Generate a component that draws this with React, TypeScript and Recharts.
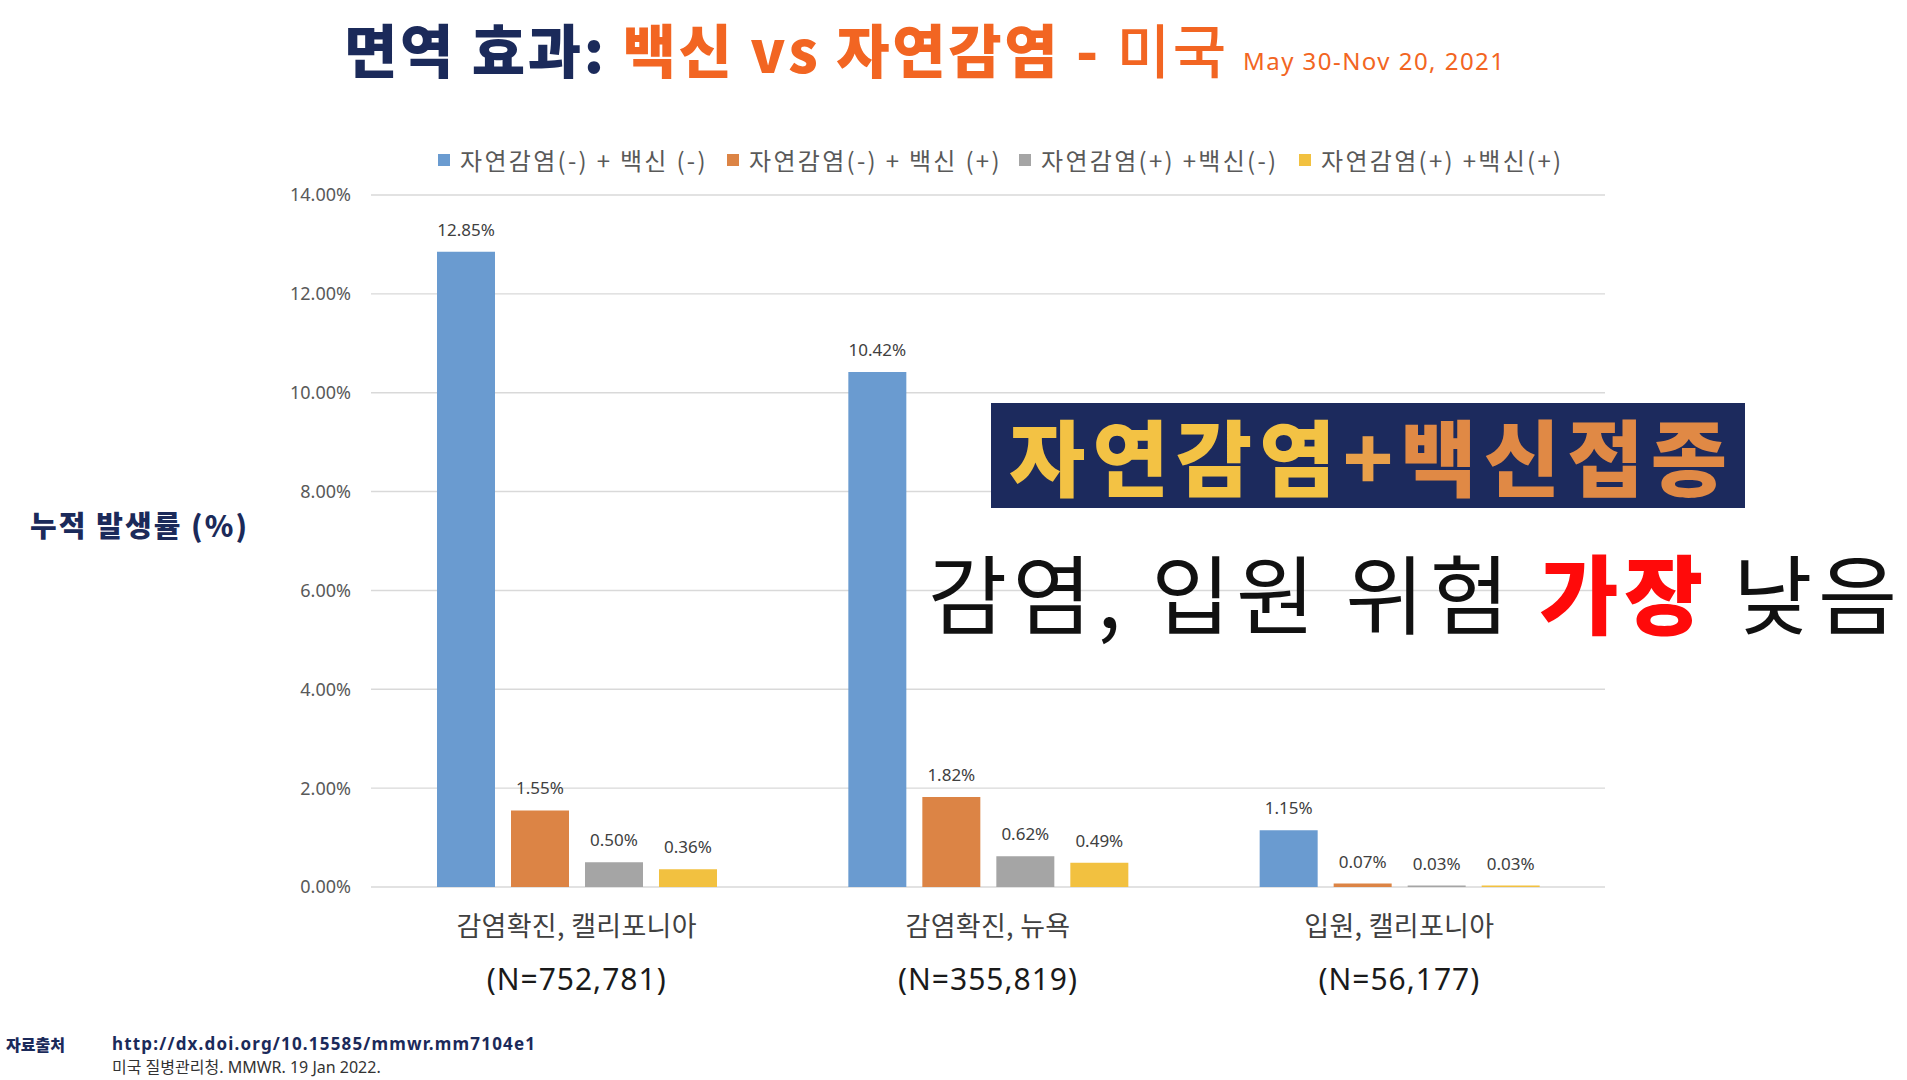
import React from 'react';
import { BarChart, Bar, XAxis, YAxis, CartesianGrid, LabelList, Legend } from 'recharts';

const categories = ['감염확진, 캘리포니아', '감염확진, 뉴욕', '입원, 캘리포니아'];
const sampleSizes = ['(N=752,781)', '(N=355,819)', '(N=56,177)'];
const seriesNames = ['자연감염(-) + 백신 (-)', '자연감염(-) + 백신 (+)', '자연감염(+) +백신(-)', '자연감염(+) +백신(+)'];
const noInfectionNoVaccine = [12.85, 10.42, 1.15];
const noInfectionVaccine = [1.55, 1.82, 0.07];
const infectionNoVaccine = [0.5, 0.62, 0.03];
const infectionVaccine = [0.36, 0.49, 0.03];
const yTicks = [0, 2, 4, 6, 8, 10, 12, 14];

const seriesValues = [noInfectionNoVaccine, noInfectionVaccine, infectionNoVaccine, infectionVaccine];
const seriesKeys = ['s0', 's1', 's2', 's3'];
const seriesColors = ['#6a9bd0', '#dc8445', '#a5a5a5', '#f2c140'];
const legendItemWidths = [289, 292, 280, 270];

const data = categories.map((c, i) => {
  const row: any = { name: c, n: sampleSizes[i] };
  seriesKeys.forEach((k, j) => {
    row[k] = seriesValues[j][i];
  });
  return row;
});

const KR = "'Noto Sans CJK KR', 'Noto Sans', sans-serif";
const NUM = "'Noto Sans', 'Noto Sans CJK KR', sans-serif";
const pct = (v: any) => `${Number(v).toFixed(2)}%`;

const CategoryTick = (props: any) => {
  const { x, y, payload, index } = props;
  return (
    <g>
      <text x={x} y={y + 49} textAnchor="middle" fontFamily={KR} fontSize={27} fill="#404040" letterSpacing={0.3}>
        {payload.value}
      </text>
      <text x={x} y={y + 103} textAnchor="middle" fontFamily={NUM} fontSize={30} fill="#1a1a1a" letterSpacing={1}>
        {sampleSizes[index]}
      </text>
    </g>
  );
};

const LegendContent = () => (
  <div style={{ display: 'flex', alignItems: 'center', height: 40, paddingLeft: 438, fontFamily: KR }}>
    {seriesNames.map((n, i) => (
      <div key={n} style={{ width: legendItemWidths[i], display: 'flex', alignItems: 'center' }}>
        <div style={{ width: 12, height: 12, background: seriesColors[i], marginRight: 10, marginTop: 2 }} />
        <span style={{ fontSize: 24, color: '#595959', letterSpacing: 2.3, whiteSpace: 'nowrap' }}>{n}</span>
      </div>
    ))}
  </div>
);

export default function App() {
  return (
    <div style={{ position: 'absolute', left: 0, top: 0, width: 1907, height: 1080, background: '#fff', overflow: 'hidden' }}>
      <BarChart
        width={1907}
        height={1080}
        data={data}
        margin={{ top: 195, right: 302, bottom: 73, left: 0 }}
        barSize={58}
        barGap={16}
      >
        <CartesianGrid vertical={false} stroke="#d9d9d9" strokeWidth={1.4} />
        <XAxis
          dataKey="name"
          axisLine={false}
          tickLine={false}
          tickSize={0}
          tickMargin={0}
          height={120}
          interval={0}
          tick={<CategoryTick />}
        />
        <YAxis
          domain={[0, 14]}
          ticks={yTicks}
          tickFormatter={pct}
          axisLine={false}
          tickLine={false}
          tickSize={0}
          tickMargin={20}
          width={371}
          tick={{ fill: '#595959', fontSize: 18, fontFamily: NUM }}
        />
        <Legend
          layout="horizontal"
          verticalAlign="middle"
          align="center"
          wrapperStyle={{ top: 139, left: 0, width: 1907 }}
          content={<LegendContent />}
        />
        {seriesKeys.map((k, i) => (
          <Bar key={k} dataKey={k} name={seriesNames[i]} fill={seriesColors[i]} isAnimationActive={false}>
            <LabelList dataKey={k} position="top" offset={16} formatter={pct} fill="#404040" fontSize={17} fontFamily={NUM} />
          </Bar>
        ))}
      </BarChart>
      <svg width={1907} height={1080} style={{ position: 'absolute', left: 0, top: 0, pointerEvents: 'none' }}>
        <text x={344} y={73} fontFamily={KR} fontSize={58} fontWeight={900} textLength={882} lengthAdjust="spacing">
          <tspan fill="#1b2a5a">면역 효과: </tspan>
          <tspan fill="#f26522">백신 vs 자연감염 - </tspan>
          <tspan fill="#f26522" fontWeight={500}>미국</tspan>
        </text>
        <text x={1243} y={70} fontFamily={NUM} fontSize={24} fill="#f26522" textLength={261} lengthAdjust="spacing">
          May 30-Nov 20, 2021
        </text>
        <text x={30} y={537} fontFamily={KR} fontSize={29} fontWeight={900} fill="#1b2a5a" textLength={217} lengthAdjust="spacing">
          누적 발생률 (%)
        </text>
        <rect x={991} y={403} width={754} height={105} fill="#1c2a5d" />
        <text x={1009} y={490} fontFamily={KR} fontSize={83} fontWeight={900} textLength={718} lengthAdjust="spacing">
          <tspan fill="#f3c244">자연감염</tspan>
          <tspan fill="#e9a04a">+</tspan>
          <tspan fill="#e08945">백신접종</tspan>
        </text>
        <text x={928} y={628} fontFamily={KR} fontSize={86} fill="#111" textLength={969} lengthAdjust="spacing">
          <tspan>감염, 입원 위험 </tspan>
          <tspan fill="#ff0a0a" fontWeight={900}>가장</tspan>
          <tspan> 낮음</tspan>
        </text>
        <text x={6} y={1051} fontFamily={KR} fontSize={16} fontWeight={900} fill="#1b2a5a">자료출처</text>
        <text x={112} y={1050} fontFamily={NUM} fontSize={17} fontWeight={700} fill="#1b2a5a" textLength={423} lengthAdjust="spacing">
          http://dx.doi.org/10.15585/mmwr.mm7104e1
        </text>
        <text x={112} y={1073} fontFamily={NUM} fontSize={16} fill="#333">
          미국 질병관리청. MMWR. 19 Jan 2022.
        </text>
      </svg>
    </div>
  );
}
